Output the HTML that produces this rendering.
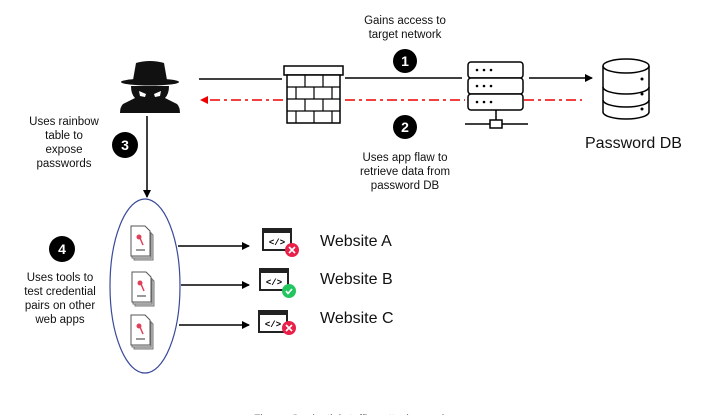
<!DOCTYPE html>
<html><head><style>
body{margin:0;width:712px;height:415px;background:#fff;overflow:hidden;font-family:"Liberation Sans",Arial,sans-serif}
</style></head><body>
<svg width="712" height="415" viewBox="0 0 712 415" xmlns="http://www.w3.org/2000/svg">
<defs>
<marker id="ab" markerWidth="8" markerHeight="8" refX="7" refY="4" orient="auto" markerUnits="userSpaceOnUse"><path d="M0,0 L8,4 L0,8z" fill="#000"/></marker>
<marker id="ar" markerWidth="8" markerHeight="8" refX="7" refY="4" orient="auto" markerUnits="userSpaceOnUse"><path d="M0,0 L8,4 L0,8z" fill="#e00"/></marker>
<g id="doc">
<path d="M3,4 h14 l5,5 v25 h-19z" fill="#ccc" stroke="#777" stroke-width="1"/>
<path d="M1,2 h14 l5,5 v25 h-19z" fill="#ddd" stroke="#777" stroke-width="1"/>
<path d="M0,0 h14 l5,5 v25 h-19z" fill="#fff" stroke="#555" stroke-width="1"/>
<circle cx="8" cy="11" r="2.5" fill="#e0405a"/><line x1="9" y1="12" x2="12" y2="19" stroke="#e0405a" stroke-width="1.5"/>
<line x1="5" y1="24" x2="14" y2="24" stroke="#333"/>
</g>
<g id="web">
<rect x="0" y="0" width="28" height="21" fill="#fff" stroke="#222" stroke-width="2"/>
<rect x="0" y="0" width="28" height="4" fill="#222"/>
<text x="14" y="16" font-size="9" text-anchor="middle" font-family="Liberation Mono,monospace" font-weight="bold">&lt;/&gt;</text>
</g>
</defs>
<g font-size="11.5" text-anchor="middle" fill="#111">
<text x="405" y="24">Gains access to</text><text x="405" y="38">target network</text>
<text x="405" y="161">Uses app flaw to</text><text x="405" y="175">retrieve data from</text><text x="405" y="189">password DB</text>
<text x="64" y="125">Uses rainbow</text><text x="64" y="139">table to</text><text x="64" y="153">expose</text><text x="64" y="167">passwords</text>
<text x="60" y="281">Uses tools to</text><text x="60" y="295">test credential</text><text x="60" y="309">pairs on other</text><text x="60" y="323">web apps</text>
</g>
<g font-size="16" fill="#111">
<text x="585" y="148">Password DB</text>
<text x="320" y="246">Website A</text><text x="320" y="284">Website B</text><text x="320" y="323">Website C</text>
</g>
<text x="356" y="422" font-size="11" fill="#777" text-anchor="middle">Figure: Credential stuffing attack overview</text>
<g font-size="14" font-weight="bold" fill="#fff" text-anchor="middle">
<circle cx="405" cy="61" r="12" fill="#000"/><text x="405" y="66">1</text>
<circle cx="405" cy="127" r="12" fill="#000"/><text x="405" y="132">2</text>
<circle cx="125" cy="145" r="13" fill="#000"/><text x="125" y="150">3</text>
<circle cx="62" cy="249" r="13" fill="#000"/><text x="62" y="254">4</text>
</g>
<!-- hacker -->
<path d="M136,63 q14,-4 28,0 l3,17 h-34z" fill="#111"/>
<ellipse cx="150" cy="82" rx="29" ry="3.5" fill="#111"/>
<path d="M131,86 h38 q0,8 -4,12 l12,6 q3,3 3,9 h-60 q0,-6 3,-9 l12,-6 q-4,-4 -4,-12z" fill="#111"/>
<path d="M139,91 l7,3 l-1,3 l-5,-1z M161,91 l-7,3 l1,3 l5,-1z" fill="#fff"/>
<line x1="199" y1="79" x2="282" y2="79" stroke="#000" stroke-width="1.5"/>
<line x1="345" y1="78" x2="462" y2="78" stroke="#000" stroke-width="1.5"/>
<line x1="529" y1="78" x2="592" y2="78" stroke="#000" stroke-width="1.5" marker-end="url(#ab)"/>
<line x1="283" y1="100" x2="201" y2="100" stroke="#e00" stroke-width="1.5" stroke-dasharray="10,4,3,4" marker-end="url(#ar)"/>
<line x1="345" y1="100" x2="465" y2="100" stroke="#e00" stroke-width="1.5" stroke-dasharray="10,4,3,4"/>
<line x1="524" y1="100" x2="582" y2="100" stroke="#e00" stroke-width="1.5" stroke-dasharray="10,4,3,4"/>
<rect x="284" y="66" width="59" height="9" fill="#fff" stroke="#000" stroke-width="1.5"/>
<rect x="287" y="75" width="53" height="48" fill="#fff" stroke="#000" stroke-width="1.5"/>
<g stroke="#000" stroke-width="1.2">
<line x1="287" y1="87" x2="340" y2="87"/><line x1="287" y1="99" x2="340" y2="99"/><line x1="287" y1="111" x2="340" y2="111"/>
<line x1="305" y1="75" x2="305" y2="87"/><line x1="323" y1="75" x2="323" y2="87"/>
<line x1="296" y1="87" x2="296" y2="99"/><line x1="314" y1="87" x2="314" y2="99"/><line x1="332" y1="87" x2="332" y2="99"/>
<line x1="305" y1="99" x2="305" y2="111"/><line x1="323" y1="99" x2="323" y2="111"/>
<line x1="296" y1="111" x2="296" y2="123"/><line x1="314" y1="111" x2="314" y2="123"/><line x1="332" y1="111" x2="332" y2="123"/>
</g>
<g fill="#fff" stroke="#000" stroke-width="1.5">
<rect x="468" y="62" width="55" height="16" rx="3"/><rect x="468" y="78" width="55" height="16" rx="3"/><rect x="468" y="94" width="55" height="16" rx="3"/>
</g>
<g fill="#000"><circle cx="477" cy="70" r="1.3"/><circle cx="484" cy="70" r="1.3"/><circle cx="491" cy="70" r="1.3"/>
<circle cx="477" cy="86" r="1.3"/><circle cx="484" cy="86" r="1.3"/><circle cx="491" cy="86" r="1.3"/>
<circle cx="477" cy="102" r="1.3"/><circle cx="484" cy="102" r="1.3"/><circle cx="491" cy="102" r="1.3"/></g>
<line x1="496" y1="110" x2="496" y2="120" stroke="#000" stroke-width="1.5"/>
<line x1="465" y1="124" x2="528" y2="124" stroke="#000" stroke-width="1.5"/>
<rect x="490" y="120" width="12" height="8" fill="#fff" stroke="#000" stroke-width="1.5"/>
<g fill="#fff" stroke="#000" stroke-width="1.5">
<path d="M603,66 v46 a23,7 0 0 0 46,0 v-46"/>
<ellipse cx="626" cy="66" rx="23" ry="7"/>
<path d="M603,87 a23,7 0 0 0 46,0" fill="none"/><path d="M603,100 a23,7 0 0 0 46,0" fill="none"/>
</g>
<g fill="#000"><circle cx="642" cy="79" r="1.5"/><circle cx="642" cy="94" r="1.5"/><circle cx="642" cy="109" r="1.5"/></g>
<line x1="147" y1="116" x2="147" y2="197" stroke="#000" stroke-width="1.5" marker-end="url(#ab)"/>
<ellipse cx="145" cy="286" rx="35" ry="87" fill="none" stroke="#3a4a9a" stroke-width="1.2"/>
<use href="#doc" x="131" y="226"/><use href="#doc" x="132" y="272"/><use href="#doc" x="131" y="315"/>
<line x1="178" y1="246" x2="249" y2="246" stroke="#000" stroke-width="1.5" marker-end="url(#ab)"/>
<line x1="181" y1="285" x2="249" y2="285" stroke="#000" stroke-width="1.5" marker-end="url(#ab)"/>
<line x1="179" y1="325" x2="249" y2="325" stroke="#000" stroke-width="1.5" marker-end="url(#ab)"/>
<use href="#web" x="263" y="229"/><use href="#web" x="260" y="269"/><use href="#web" x="259" y="311"/>
<g stroke="#fff" stroke-width="1.6">
<circle cx="292" cy="250" r="7" fill="#e8204a" stroke="none"/><path d="M289,247 l6,6 M295,247 l-6,6"/>
<circle cx="289" cy="291" r="7" fill="#22c55e" stroke="none"/><path d="M286,291 l2,2.5 l4,-4.5" fill="none"/>
<circle cx="289" cy="328" r="7" fill="#e8204a" stroke="none"/><path d="M286,325 l6,6 M292,325 l-6,6"/>
</g>
</svg>
</body></html>
